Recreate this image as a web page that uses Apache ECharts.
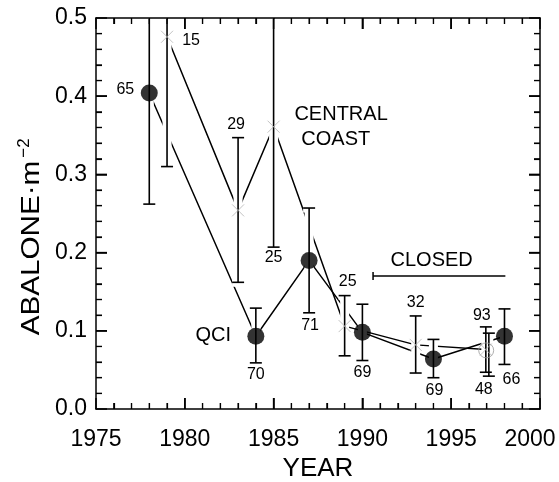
<!DOCTYPE html>
<html>
<head>
<meta charset="utf-8">
<script src="https://cdn.jsdelivr.net/npm/echarts@6/dist/echarts.min.js"></script>
<style>
  html, body { margin: 0; padding: 0; background: #fff; }
  #chart { width: 559px; height: 482px; }
</style>
</head>
<body>
<div id="chart"></div>
<script>
// Abalone density (individuals per m^2), mean with error range and number of quadrats
const qciYears   = [1978, 1984, 1987, 1990, 1994, 1998];
const qciDensity = [0.404, 0.093, 0.190, 0.098, 0.064, 0.093];
const qciLow     = [0.262, 0.059, 0.123, 0.062, 0.040, 0.057];
const qciHigh    = [0.548, 0.129, 0.257, 0.134, 0.089, 0.128];
const qciN       = ['65', '70', '71', '69', '69', '66'];

const coastYears   = [1979, 1983, 1985, 1989, 1993, 1996.95];
const coastDensity = [0.476, 0.254, 0.361, 0.106, 0.082, 0.076];
const coastLow     = [0.310, 0.162, 0.207, 0.068, 0.046, 0.047];
const coastHigh    = [0.640, 0.347, 0.515, 0.145, 0.119, 0.105];
const coastN       = ['15', '29', '25', '25', '32', '93'];

// second 1997 survey (open circle)
const extraYears   = [1997.12];
const extraDensity = [0.070];
const extraLow     = [0.042];
const extraHigh    = [0.097];
const extraN       = ['48'];

// fishery closure period
const closedFrom  = 1990.6;
const closedTo    = 1998.05;
const closedLevel = 0.17;

// axis ranges and tick steps
const xRange = [1975, 2000], xMajor = 5, xMinor = 1;
const yRange = [0, 0.5],     yMajor = 0.1, yMinor = 0.02;

const FONT = 'Liberation Sans, Arial, Helvetica, sans-serif';

// label offsets in pixels: [anchor, dx, dy]; anchor = 'pt' | 'lo' | 'hi'
const qciLabelPlace   = [['pt', -24, -3], ['lo', 0, 12], ['lo', 1, 13], ['lo', 0, 12], ['lo', 1, 13], ['lo', 7, 15]];
const coastLabelPlace = [['pt', 24, 4], ['hi', -2, -13], ['lo', 0, 10], ['hi', 3, -14], ['hi', 0, -13], ['hi', -4, -11]];
const extraLabelPlace = [['lo', -5, 13]];

function zip(xs, ys) { return xs.map((x, i) => [x, ys[i]]); }
function bars(xs, lo, hi) { return xs.map((x, i) => [x, lo[i], hi[i]]); }

// error bars; bars running past the top of the frame are cut at the frame without a cap
function errorBarSeries(data, halo) {
  return {
    type: 'custom',
    z: halo ? 3 : 4,
    silent: true,
    data: data,
    renderItem: function (params, api) {
      const top = params.coordSys.y + 1;
      const x = api.value(0);
      const lo = api.coord([x, api.value(1)]);
      const hi = api.coord([x, api.value(2)]);
      const cut = hi[1] < top;
      const hy = cut ? top : hi[1];
      const w = 6;
      const style = halo
        ? { stroke: '#fff', lineWidth: 9, fill: null }
        : { stroke: '#000', lineWidth: 1.6, fill: null };
      const children = [
        { type: 'line', shape: { x1: lo[0], y1: lo[1], x2: hi[0], y2: hy }, style: style },
        { type: 'line', shape: { x1: lo[0] - w, y1: lo[1], x2: lo[0] + w, y2: lo[1] }, style: style }
      ];
      if (!cut) {
        children.push({ type: 'line', shape: { x1: hi[0] - w, y1: hi[1], x2: hi[0] + w, y2: hi[1] }, style: style });
      }
      return { type: 'group', children: children };
    }
  };
}

function countLabelSeries(xs, vals, lo, hi, texts, place) {
  return {
    type: 'custom',
    z: 6,
    silent: true,
    data: xs.map((x, i) => [x, vals[i], lo[i], hi[i]]),
    renderItem: function (params, api) {
      const i = params.dataIndex;
      const p = place[i];
      const v = p[0] === 'pt' ? api.value(1) : (p[0] === 'lo' ? api.value(2) : api.value(3));
      const c = api.coord([api.value(0), v]);
      return {
        type: 'text',
        x: c[0] + p[1],
        y: c[1] + p[2],
        style: {
          text: texts[i], fill: '#000', font: '16px ' + FONT,
          textAlign: 'center', textVerticalAlign: 'middle'
        }
      };
    }
  };
}

// inward tick marks on all four sides of the frame, placed through the axis scales
function frameTicksSeries() {
  return {
    type: 'custom', z: 10, silent: true,
    data: [[xRange[0], yRange[0]]],
    renderItem: function (params, api) {
      const children = [];
      const x0 = api.coord([xRange[0], yRange[0]])[0];
      const x1 = api.coord([xRange[1], yRange[0]])[0];
      const yb = api.coord([xRange[0], yRange[0]])[1];
      const yt = api.coord([xRange[0], yRange[1]])[1];
      const nx = Math.round((xRange[1] - xRange[0]) / xMinor);
      const perMajorX = Math.round(xMajor / xMinor);
      for (let k = 1; k < nx; k++) {
        const v = xRange[0] + k * xMinor;
        const major = k % perMajorX === 0;
        const len = major ? 11 : 6;
        const px = api.coord([v, yRange[0]])[0];
        const st = { stroke: '#000', lineWidth: major ? 1.5 : 1.2, fill: null };
        children.push({ type: 'line', shape: { x1: px, y1: yb, x2: px, y2: yb - len }, style: st });
        children.push({ type: 'line', shape: { x1: px, y1: yt, x2: px, y2: yt + len }, style: st });
      }
      const ny = Math.round((yRange[1] - yRange[0]) / yMinor);
      const perMajorY = Math.round(yMajor / yMinor);
      for (let k = 1; k < ny; k++) {
        const v = yRange[0] + k * yMinor;
        const major = k % perMajorY === 0;
        const len = major ? 11 : 6;
        const py = api.coord([xRange[0], v])[1];
        const st = { stroke: '#000', lineWidth: major ? 1.5 : 1.2, fill: null };
        children.push({ type: 'line', shape: { x1: x0, y1: py, x2: x0 + len, y2: py }, style: st });
        children.push({ type: 'line', shape: { x1: x1, y1: py, x2: x1 - len, y2: py }, style: st });
      }
      return { type: 'group', children: children };
    }
  };
}

// free text annotations placed in data coordinates
const notes = [
  { x: 1988.8, y: 0.377, text: 'CENTRAL' },
  { x: 1988.5, y: 0.345, text: 'COAST' },
  { x: 1981.6, y: 0.094, text: 'QCI' },
  { x: 1993.9, y: 0.190, text: 'CLOSED' }
];

const chart = echarts.init(document.getElementById('chart'));

function frameAxis() {
  return {
    axisLine: { show: true, onZero: false, lineStyle: { color: '#000', width: 1.5 } },
    axisTick: { show: true, inside: true, length: 11, lineStyle: { color: '#000', width: 1.5 } },
    minorTick: { show: true, splitNumber: 5, length: 6, lineStyle: { color: '#000', width: 1.2 } },
    splitLine: { show: false },
    minorSplitLine: { show: false }
  };
}

const option = {
  animation: false,
  grid: { left: 96, right: 19, top: 18, bottom: 73, outerBoundsMode: 'none' },
  xAxis: [
    Object.assign({
      type: 'value', min: xRange[0], max: xRange[1], interval: xMajor, position: 'bottom',
      name: 'YEAR', nameLocation: 'middle', nameGap: 47,
      nameTextStyle: { fontFamily: FONT, fontSize: 26, color: '#000' },
      axisLabel: {
        margin: 19, color: '#000', fontFamily: FONT, fontSize: 23,
        formatter: function (v) { return v === 2000 ? '{r|' + v + '}' : String(v); },
        rich: { r: { fontFamily: FONT, fontSize: 23, color: '#000', padding: [0, 20, 0, 0] } }
      }
    }, frameAxis()),
    Object.assign({
      type: 'value', min: xRange[0], max: xRange[1], interval: xMajor, position: 'top',
      axisLabel: { show: false }
    }, frameAxis())
  ],
  yAxis: [
    Object.assign({
      type: 'value', min: yRange[0], max: yRange[1], interval: yMajor, position: 'left',
      axisLabel: {
        margin: 9, color: '#000', fontFamily: FONT, fontSize: 23,
        formatter: function (v) { return v.toFixed(1); }
      }
    }, frameAxis()),
    Object.assign({
      type: 'value', min: yRange[0], max: yRange[1], interval: yMajor, position: 'right',
      axisLabel: { show: false }
    }, frameAxis())
  ],
  graphic: [
    {
      type: 'text', x: 32, y: 248, rotation: Math.PI / 2, scaleX: 1.14,
      style: { text: 'ABALONE·m', font: '26px ' + FONT, fill: '#000', textAlign: 'center', textVerticalAlign: 'middle' }
    },
    {
      type: 'text', x: 24, y: 148, rotation: Math.PI / 2,
      style: { text: '−2', font: '17px ' + FONT, fill: '#000', textAlign: 'center', textVerticalAlign: 'middle' }
    }
  ],
  series: [
    // connecting lines
    {
      type: 'line', z: 2, symbol: 'none', silent: true,
      data: zip(qciYears, qciDensity),
      lineStyle: { color: '#000', width: 1.5 }
    },
    {
      type: 'line', z: 2, symbol: 'none', silent: true,
      data: zip(coastYears, coastDensity),
      lineStyle: { color: '#000', width: 1.5 }
    },
    // white halos under the error bars, then the bars
    errorBarSeries(bars(coastYears, coastLow, coastHigh).concat(bars(qciYears, qciLow, qciHigh), bars(extraYears, extraLow, extraHigh)), true),
    errorBarSeries(bars(coastYears, coastLow, coastHigh).concat(bars(qciYears, qciLow, qciHigh), bars(extraYears, extraLow, extraHigh)), false),
    // markers
    {
      type: 'scatter', z: 5, silent: true,
      data: zip(coastYears, coastDensity),
      symbol: 'path://M0,0L10,10M10,0L0,10', symbolSize: 12,
      itemStyle: { color: 'rgba(0,0,0,0)', borderColor: '#b4b4b4', borderWidth: 1 }
    },
    {
      type: 'scatter', z: 5, silent: true,
      data: zip(extraYears, extraDensity).map(p => [p[0] - 0.15, p[1] + 0.005]),
      symbol: 'circle', symbolSize: 15,
      itemStyle: { color: 'rgba(0,0,0,0)', borderColor: '#9a9a9a', borderWidth: 1 }
    },
    {
      type: 'scatter', z: 5, silent: true,
      data: zip(qciYears, qciDensity),
      symbol: 'circle', symbolSize: 17,
      itemStyle: { color: '#000' }
    },
    // closure period bracket
    {
      type: 'custom', z: 4, silent: true,
      data: [[closedFrom, closedTo, closedLevel]],
      renderItem: function (params, api) {
        const a = api.coord([api.value(0), api.value(2)]);
        const b = api.coord([api.value(1), api.value(2)]);
        const st = { stroke: '#000', lineWidth: 1.5, fill: null };
        return {
          type: 'group',
          children: [
            { type: 'line', shape: { x1: a[0], y1: a[1], x2: b[0], y2: b[1] }, style: st },
            { type: 'line', shape: { x1: a[0], y1: a[1] - 4, x2: a[0], y2: a[1] + 4 }, style: st }
          ]
        };
      }
    },
    frameTicksSeries(),
    // sample size labels
    countLabelSeries(qciYears, qciDensity, qciLow, qciHigh, qciN, qciLabelPlace),
    countLabelSeries(coastYears, coastDensity, coastLow, coastHigh, coastN, coastLabelPlace),
    countLabelSeries(extraYears, extraDensity, extraLow, extraHigh, extraN, extraLabelPlace),
    // annotations
    {
      type: 'custom', z: 6, silent: true,
      data: notes.map(n => [n.x, n.y]),
      renderItem: function (params, api) {
        const c = api.coord([api.value(0), api.value(1)]);
        return {
          type: 'text', x: c[0], y: c[1],
          style: {
            text: notes[params.dataIndex].text, fill: '#000', font: '20px ' + FONT,
            textAlign: 'center', textVerticalAlign: 'middle'
          }
        };
      }
    }
  ]
};

chart.setOption(option);
</script>
</body>
</html>
